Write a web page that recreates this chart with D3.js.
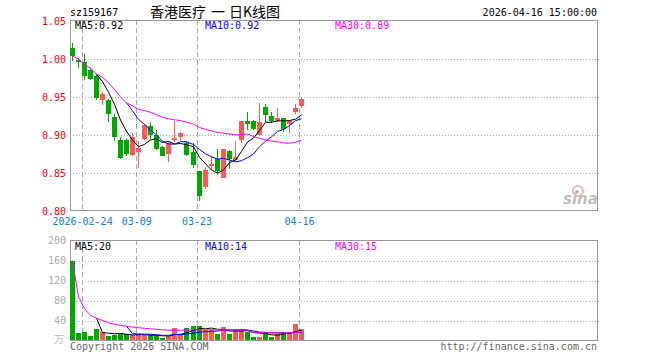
<!DOCTYPE html>
<html>
<head>
<meta charset="utf-8">
<script src="https://cdn.jsdelivr.net/npm/d3@7"></script>
<style>
  body { margin: 0; background: #fff; }
  text { font-family: "DejaVu Sans Mono", monospace; font-size: 10px; }
</style>
</head>
<body>
<div id="kline"></div>
<script>
// Trading days
const dates = ["2026-02-12","2026-02-13","2026-02-24","2026-02-25","2026-02-26","2026-02-27",
  "2026-03-02","2026-03-03","2026-03-04","2026-03-05","2026-03-06","2026-03-09","2026-03-10",
  "2026-03-11","2026-03-12","2026-03-13","2026-03-16","2026-03-17","2026-03-18","2026-03-19",
  "2026-03-20","2026-03-23","2026-03-24","2026-03-25","2026-03-26","2026-03-27","2026-03-30",
  "2026-03-31","2026-04-01","2026-04-02","2026-04-03","2026-04-07","2026-04-08","2026-04-09",
  "2026-04-10","2026-04-13","2026-04-14","2026-04-15","2026-04-16"];

// OHLC values
const open  = [1.014,0.999,0.996,0.986,0.977,0.946,0.946,0.924,0.893,0.893,0.874,0.878,0.895,
  0.912,0.900,0.884,0.875,0.894,0.898,0.890,0.877,0.852,0.831,0.859,0.868,0.844,0.879,0.867,
  0.893,0.918,0.919,0.900,0.937,0.925,0.918,0.923,0.914,0.930,0.938];
const high  = [1.021,1.001,1.006,0.988,0.980,0.957,0.947,0.927,0.897,0.896,0.902,0.892,0.915,
  0.917,0.906,0.886,0.892,0.919,0.904,0.892,0.889,0.852,0.857,0.873,0.882,0.882,0.880,0.892,
  0.919,0.930,0.920,0.942,0.941,0.930,0.936,0.923,0.920,0.941,0.950];
const low   = [0.997,0.988,0.972,0.972,0.946,0.940,0.917,0.892,0.868,0.872,0.872,0.857,0.894,
  0.895,0.880,0.872,0.864,0.891,0.892,0.872,0.857,0.813,0.829,0.854,0.847,0.843,0.855,0.866,
  0.889,0.906,0.906,0.900,0.917,0.916,0.917,0.904,0.903,0.928,0.935];
const close = [1.004,0.996,0.978,0.974,0.949,0.954,0.927,0.898,0.870,0.875,0.897,0.883,0.913,
  0.900,0.882,0.873,0.890,0.896,0.903,0.874,0.860,0.820,0.854,0.862,0.852,0.882,0.868,0.871,
  0.919,0.914,0.908,0.917,0.926,0.919,0.923,0.908,0.919,0.935,0.947];

// Volume (万)
const volume = [160,15,17,8.6,22.6,16.6,8.6,10.6,13.5,12.8,10.4,10.8,10.8,10.2,10.2,5.3,8.6,
  24.6,13,24.6,28.6,28.6,22,20.6,12.6,26.6,12.6,22,20.6,16.6,7.3,7.3,18,7.3,12.6,18,18,32.6,23];

// Axis ticks and labels
const dateTicks = ["2026-02-24","2026-03-09","2026-03-23","2026-04-16"];
const priceTicks = [0.80,0.85,0.90,0.95,1.00,1.05];
const volTicks = [40,80,120,160,200];
const priceMaLabels = ["MA5:0.92","MA10:0.92","MA30:0.89"];
const volMaLabels = ["MA5:20","MA10:14","MA30:15"];

const UP = "#ff5a5a", DOWN = "#00a800", GRID = "#aaa", BORDER = "#999";
const maColors = ["#000", "#0000ff", "#ff00ff"];
const left = 70, right = 597;

const svg = d3.select("#kline")
  .append("svg")
    .attr("width", 660)
    .attr("height", 360);

// Shared x scale, 6px per trading day
const x = d3.scaleBand()
  .domain(dates)
  .range([left, left + 6 * dates.length])
  .paddingInner(1 / 6)
  .paddingOuter(0);
const cx = d => Math.round(x(d)) + 2.5;

const y = d3.scaleLinear().domain([0.80, 1.05]).range([211, 21]);
const yv = d3.scaleLinear().domain([0, 200]).range([340.5, 240.5]);

// Moving averages: MA5/MA10 when the window is full, MA30 from start
function movingAvg(arr, n, partial) {
  return arr.map((v, i) => {
    if (i < n - 1 && !partial) return null;
    const s = arr.slice(Math.max(0, i - n + 1), i + 1);
    return d3.mean(s);
  });
}

// Header texts
svg.append("text").attr("x", 70).attr("y", 16).text("sz159167");
[["香港医疗", 150], ["一", 211], ["日K线图", 229]].forEach(([t, px]) => {
  svg.append("text")
    .attr("x", px).attr("y", 17)
    .style("font-family", "'Noto Sans CJK SC', sans-serif")
    .style("font-size", "14px")
    .text(t);
});
svg.append("text")
  .attr("x", 597).attr("y", 16)
  .attr("text-anchor", "end")
  .text("2026-04-16 15:00:00");

function drawPanel(g, yScale, ticks, gridTicks, top, bottom, labelColor, fmt) {
  // horizontal dotted grid
  g.selectAll(".hgrid")
    .data(gridTicks)
    .join("line")
      .attr("x1", left).attr("x2", right + 2)
      .attr("y1", d => Math.round(yScale(d)) + 0.5)
      .attr("y2", d => Math.round(yScale(d)) + 0.5)
      .attr("stroke", GRID)
      .attr("stroke-dasharray", "1,2");

  // vertical dashed date lines
  g.selectAll(".vgrid")
    .data(dateTicks)
    .join("line")
      .attr("x1", d => Math.round(x(d)) + 0.5)
      .attr("x2", d => Math.round(x(d)) + 0.5)
      .attr("y1", top).attr("y2", bottom)
      .attr("stroke", GRID)
      .attr("stroke-dasharray", "5,3");

  // frame
  g.append("rect")
    .attr("x", left + 0.5).attr("y", top + 0.5)
    .attr("width", right - left).attr("height", bottom - top)
    .attr("fill", "none")
    .attr("stroke", BORDER);

  // y axis labels
  const ax = g.append("g")
    .attr("transform", `translate(${left},0)`)
    .call(d3.axisLeft(yScale).tickValues(ticks).tickSize(0).tickPadding(4).tickFormat(fmt));
  ax.select(".domain").remove();
  ax.selectAll("text")
    .attr("fill", labelColor)
    .style("font-family", "'DejaVu Sans Mono', monospace")
    .style("font-size", "10px");
}

// ---------- Price panel ----------
const pg = svg.append("g");
drawPanel(pg, y, priceTicks, [0.85, 0.90, 0.95, 1.00], 20, 210, "#ff0000", d3.format(".2f"));

// date labels
const xa = pg.append("g")
  .attr("transform", "translate(0,211)")
  .call(d3.axisBottom(x).tickValues(dateTicks).tickSize(0).tickPadding(7)
    .tickFormat((d, i) => i === 0 ? d : d.slice(5)));
xa.select(".domain").remove();
xa.selectAll("text")
  .attr("fill", "#0b82d0")
  .attr("dx", -2)
  .style("font-family", "'DejaVu Sans Mono', monospace")
  .style("font-size", "10px");

// candles
const candles = dates.map((d, i) => ({d, o: open[i], h: high[i], l: low[i], c: close[i], v: volume[i]}));
const colorOf = k => k.c >= k.o ? UP : DOWN;

pg.selectAll(".wick")
  .data(candles)
  .join("line")
    .attr("x1", k => cx(k.d)).attr("x2", k => cx(k.d))
    .attr("y1", k => Math.round(y(k.h))).attr("y2", k => Math.round(y(k.l)))
    .attr("stroke", colorOf);

pg.selectAll(".body")
  .data(candles)
  .join("rect")
    .attr("x", k => Math.round(x(k.d)))
    .attr("y", k => Math.round(y(Math.max(k.o, k.c))))
    .attr("width", 5)
    .attr("height", k => Math.max(1, Math.round(y(Math.min(k.o, k.c))) - Math.round(y(Math.max(k.o, k.c)))))
    .attr("fill", colorOf)
    .attr("shape-rendering", "crispEdges");

function drawMA(g, values, yScale) {
  [[5, false], [10, false], [30, true]].forEach(([n, partial], j) => {
    const ma = movingAvg(values, n, partial);
    const line = d3.line()
      .defined(d => d[1] != null)
      .x(d => cx(d[0]))
      .y(d => yScale(d[1]));
    g.append("path")
      .datum(dates.map((d, i) => [d, ma[i]]))
      .attr("d", line)
      .attr("fill", "none")
      .attr("stroke", maColors[j])
      .attr("stroke-width", 1);
  });
}
drawMA(pg, close, y);

// MA legend
priceMaLabels.forEach((t, j) => {
  pg.append("text").attr("x", [75, 205, 335][j]).attr("y", 29).attr("fill", maColors[j]).text(t);
});

// sina watermark
const logo = pg.append("g").attr("opacity", 0.55);
logo.append("circle").attr("cx", 578).attr("cy", 191).attr("r", 5)
  .attr("fill", "none").attr("stroke", "#ff7070").attr("stroke-width", 2);
logo.append("circle").attr("cx", 577).attr("cy", 192).attr("r", 1.8).attr("fill", "#666");
logo.append("text")
  .attr("x", 563).attr("y", 204)
  .style("font-family", "'DejaVu Sans', sans-serif")
  .style("font-size", "15px")
  .style("font-style", "italic")
  .style("font-weight", "bold")
  .attr("fill", "#888")
  .text("sina");

// ---------- Volume panel ----------
const vg = svg.append("g");
drawPanel(vg, yv, volTicks, [40, 80, 120, 160], 240, 340, "#aaa", d3.format("d"));

vg.selectAll(".vol")
  .data(candles)
  .join("rect")
    .attr("x", k => Math.round(x(k.d)))
    .attr("y", k => Math.round(yv(k.v)))
    .attr("width", 5)
    .attr("height", k => 340 - Math.round(yv(k.v)))
    .attr("fill", colorOf)
    .attr("shape-rendering", "crispEdges");

drawMA(vg, volume, yv);

volMaLabels.forEach((t, j) => {
  vg.append("text").attr("x", [75, 205, 335][j]).attr("y", 250).attr("fill", maColors[j]).text(t);
});

vg.append("text")
  .attr("x", 64).attr("y", 343)
  .attr("text-anchor", "end")
  .attr("fill", "#bbb")
  .style("font-family", "'Noto Sans CJK SC', sans-serif")
  .text("万");

// footer
svg.append("text").attr("x", 70).attr("y", 350).attr("fill", "#666").text("Copyright 2026 SINA.COM");
svg.append("text").attr("x", 597).attr("y", 350).attr("text-anchor", "end")
  .attr("fill", "#666").text("http://finance.sina.com.cn");
</script>
</body>
</html>
